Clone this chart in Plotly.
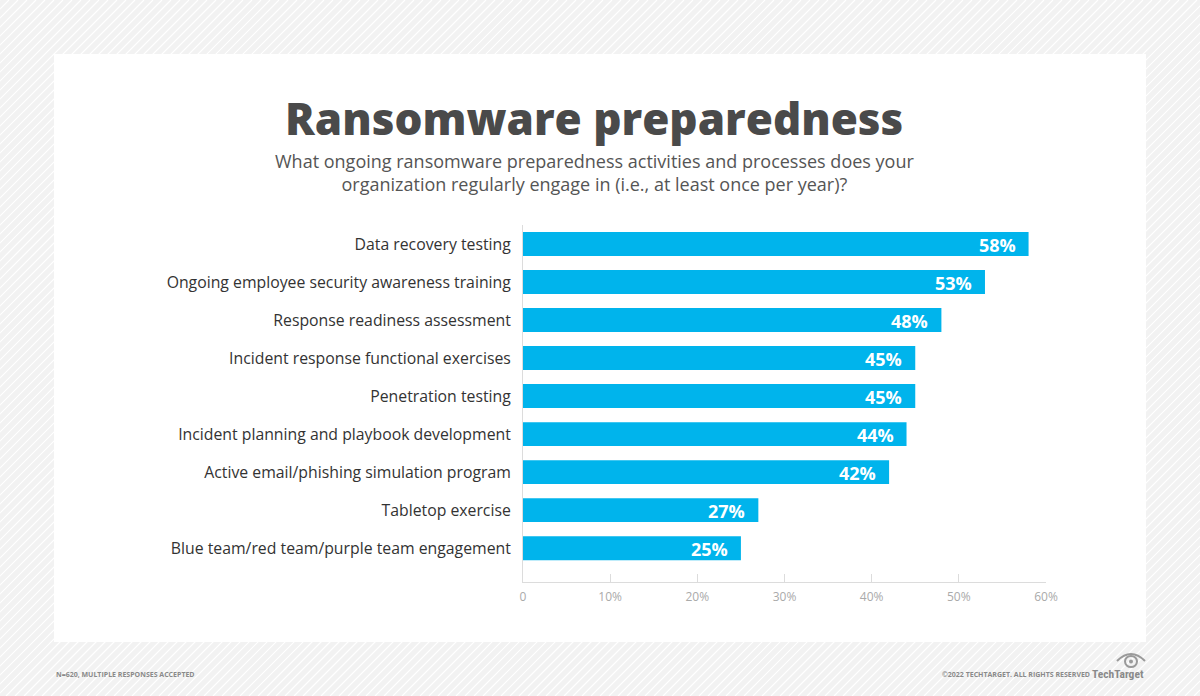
import plotly.graph_objects as go

categories = [
    "Data recovery testing",
    "Ongoing employee security awareness training",
    "Response readiness assessment",
    "Incident response functional exercises",
    "Penetration testing",
    "Incident planning and playbook development",
    "Active email/phishing simulation program",
    "Tabletop exercise",
    "Blue team/red team/purple team engagement",
]
values = [58, 53, 48, 45, 45, 44, 42, 27, 25]
tick_vals = [0, 10, 20, 30, 40, 50, 60]
tick_text = ["0", "10%", "20%", "30%", "40%", "50%", "60%"]

W, H = 1200, 696
BAR = "#00B4EC"
FONT = "Open Sans"

L, R, T, B = 523, 154, 225, 114
PW, PH = W - L - R, H - T - B
def px(x):
    return (x - L) / PW
def py(y):
    return (H - B - y) / PH

fig = go.Figure()
fig.add_trace(go.Bar(
    x=values, y=categories, orientation="h",
    marker=dict(color=BAR, line=dict(width=0)),
    width=0.63, hoverinfo="skip",
))

annotations = []
for c, v in zip(categories, values):
    annotations.append(dict(x=v, y=c, xref="x", yref="y", text=f"<b>{v}%</b>",
                            xanchor="right", yanchor="middle", xshift=-11, yshift=-1,
                            showarrow=False,
                            font=dict(color="white", size=18, family=FONT)))

shapes = []
step = 9
for k in range(-H, W + H, step):
    shapes.append(dict(type="line", xref="paper", yref="paper", layer="below",
                       x0=px(k), y0=py(H), x1=px(k + H), y1=py(0),
                       line=dict(color="white", width=1.2)))
shapes.append(dict(type="rect", xref="paper", yref="paper", layer="below",
                   x0=px(54), x1=px(1146), y0=py(642), y1=py(54),
                   fillcolor="white", line=dict(width=0)))

# TechTarget eye logo
shapes.append(dict(type="circle", xref="paper", yref="paper",
                   x0=px(1125), x1=px(1137), y0=py(667), y1=py(656),
                   line=dict(color="#9a9a9a", width=2)))
shapes.append(dict(type="circle", xref="paper", yref="paper",
                   x0=px(1129), x1=px(1133), y0=py(663.5), y1=py(659.5),
                   fillcolor="#9a9a9a", line=dict(width=0)))
shapes.append(dict(type="path", xref="paper", yref="paper",
                   path=f"M {px(1117)} {py(661)} Q {px(1131)} {py(647)} {px(1145)} {py(661)}",
                   line=dict(color="#9a9a9a", width=2)))

annotations += [
    dict(text="Ransomware preparedness", xref="paper", yref="paper",
         x=px(594), y=py(118), xanchor="center", yanchor="middle", showarrow=False,
         font=dict(size=44, color="#4a4a4a", family=FONT, weight=800)),
    dict(text="What ongoing ransomware preparedness activities and processes does your<br>organization regularly engage in (i.e., at least once per year)?",
         xref="paper", yref="paper", x=px(594), y=py(172), xanchor="center", yanchor="middle",
         showarrow=False, align="center",
         font=dict(size=18, color="#555555", family=FONT)),
    dict(text="<b>N=620, MULTIPLE RESPONSES ACCEPTED</b>", xref="paper", yref="paper",
         x=px(54), y=py(674), xanchor="left", yanchor="middle", showarrow=False,
         font=dict(size=7, color="#8a8a8a", family=FONT)),
    dict(text="<b>©2022 TECHTARGET. ALL RIGHTS RESERVED</b>", xref="paper", yref="paper",
         x=px(1092), y=py(674), xanchor="right", yanchor="middle", showarrow=False,
         font=dict(size=7, color="#8a8a8a", family=FONT)),
    dict(text="<b>TechTarget</b>", xref="paper", yref="paper",
         x=px(1146), y=py(674), xanchor="right", yanchor="middle", showarrow=False,
         font=dict(size=11.5, color="#8a8a8a", family="Roboto Condensed, Roboto")),
]

fig.update_layout(
    width=W, height=H,
    margin=dict(l=L, r=R, t=T, b=B, pad=0),
    paper_bgcolor="#f2f2f2", plot_bgcolor="rgba(0,0,0,0)",
    showlegend=False, bargap=0.37,
    shapes=shapes, annotations=annotations,
    xaxis=dict(range=[0, 60], tickvals=tick_vals, ticktext=tick_text,
               showgrid=False, zeroline=False, showline=True, linecolor="#dcdcdc", linewidth=1,
               ticks="inside", ticklen=8, tickcolor="#dcdcdc", tickwidth=1,
               ticklabelstandoff=4,
               tickfont=dict(size=12, color="#aaaaaa", family=FONT), fixedrange=True),
    yaxis=dict(categoryorder="array", categoryarray=categories,
               range=[8.89, -0.5], showgrid=False, zeroline=False,
               showline=True, linecolor="#dcdcdc", linewidth=1, ticks="",
               ticklabelstandoff=8,
               tickfont=dict(size=15.8, color="#333333", family=FONT), fixedrange=True),
    font=dict(family=FONT),
)

fig.write_html("out.html", config={"displayModeBar": False},
               post_script="document.body.style.margin='0';")
